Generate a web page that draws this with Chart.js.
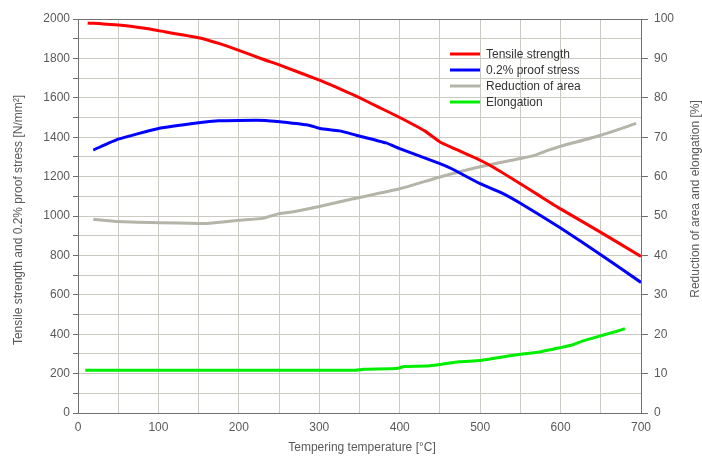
<!DOCTYPE html>
<html>
<head>
<meta charset="utf-8">
<script src="https://cdn.jsdelivr.net/npm/chart.js@4"></script>
<style>
html,body{margin:0;padding:0;background:#fff;}
#wrap{width:702px;height:457px;position:relative;}
</style>
</head>
<body>
<div id="wrap"><canvas id="c" width="702" height="457"></canvas></div>
<script>
// ---- data ----
const tensileT   = [12, 50, 83, 100, 150, 175, 200, 229, 251, 301, 329, 346, 373, 400, 431, 450, 468, 500, 518, 550, 576, 600, 650, 700];
const tensileVal = [1980, 1969, 1953, 1941, 1905, 1876, 1841, 1797, 1766, 1688, 1639, 1608, 1554, 1500, 1432, 1376, 1342, 1283, 1244, 1164, 1097, 1036, 917, 795];

const proofT   = [19, 50, 100, 150, 175, 200, 233, 251, 287, 301, 325, 346, 383, 400, 450, 464, 500, 526, 550, 600, 650, 700];
const proofVal = [1335, 1390, 1444, 1473, 1483, 1485, 1485, 1478, 1461, 1444, 1432, 1410, 1371, 1342, 1266, 1241, 1164, 1119, 1065, 939, 803, 663];

const reductionT   = [19, 50, 100, 150, 160, 200, 230, 250, 268, 300, 338, 400, 450, 500, 550, 568, 585, 600, 650, 694];
const reductionVal = [49.2, 48.6, 48.3, 48.1, 48.1, 48.9, 49.4, 50.6, 51.1, 52.4, 54.2, 56.9, 59.9, 62.5, 64.6, 65.4, 66.7, 67.7, 70.5, 73.5];

const elongT   = [9, 100, 200, 300, 345, 355, 396, 406, 433, 450, 474, 500, 524, 550, 574, 600, 613, 628, 650, 669, 680];
const elongVal = [10.85, 10.85, 10.85, 10.85, 10.85, 11.1, 11.3, 11.8, 11.9, 12.3, 13.0, 13.3, 14.1, 14.9, 15.5, 16.6, 17.2, 18.3, 19.6, 20.7, 21.4];

const seriesNames = ['Tensile strength', '0.2% proof stress', 'Reduction of area', 'Elongation'];
const xTitle = 'Tempering temperature [°C]';
const yLeftTitle = 'Tensile strength and 0.2% proof stress [N/mm²]';
const yRightTitle = 'Reduction of area and elongation [%]';

// ---- build ----
const pts = (xs, ys) => xs.map((x, i) => ({x: x, y: ys[i]}));
const FONT = '"Liberation Sans", Arial, sans-serif';
const AXIS = '#707070';
const GRID = '#cacac2';
const TXT = '#5a5a5a';

const colors = ['#ff0000', '#0000ff', '#b4b4a8', '#00ee00'];

const legendTitles = {
  id: 'customText',
  afterDatasetsDraw(chart) {
    const ctx = chart.ctx;
    ctx.save();
    // legend inside plot
    ctx.font = '12px ' + FONT;
    ctx.textBaseline = 'middle';
    ctx.textAlign = 'left';
    const rows = [54, 70, 86, 102];
    chart.data.datasets.forEach((ds, i) => {
      ctx.strokeStyle = ds.borderColor;
      ctx.lineWidth = 3;
      ctx.beginPath();
      ctx.moveTo(450, rows[i]);
      ctx.lineTo(480, rows[i]);
      ctx.stroke();
      ctx.fillStyle = '#333333';
      ctx.fillText(ds.label, 486, rows[i] + 0.5);
    });
    // axis titles
    ctx.fillStyle = TXT;
    ctx.textAlign = 'center';
    ctx.fillText(xTitle, 362, 448);
    ctx.save();
    ctx.translate(18.5, 220);
    ctx.rotate(-Math.PI / 2);
    ctx.fillText(yLeftTitle, 0, 0);
    ctx.restore();
    ctx.save();
    ctx.translate(696, 199);
    ctx.rotate(-Math.PI / 2);
    ctx.fillText(yRightTitle, 0, 0);
    ctx.restore();
    ctx.restore();
  }
};

new Chart(document.getElementById('c'), {
  type: 'line',
  data: {
    datasets: [
      {label: seriesNames[0], data: pts(tensileT, tensileVal), borderColor: colors[0], yAxisID: 'y'},
      {label: seriesNames[1], data: pts(proofT, proofVal), borderColor: colors[1], yAxisID: 'y'},
      {label: seriesNames[2], data: pts(reductionT, reductionVal), borderColor: colors[2], yAxisID: 'y2'},
      {label: seriesNames[3], data: pts(elongT, elongVal), borderColor: colors[3], yAxisID: 'y2'}
    ]
  },
  options: {
    responsive: false,
    animation: false,
    devicePixelRatio: 1,
    layout: {padding: {top: 19, left: 0, right: 0, bottom: 0}},
    elements: {
      line: {borderWidth: 3, tension: 0.15, fill: false, borderCapStyle: 'butt'},
      point: {radius: 0, hoverRadius: 0}
    },
    plugins: {legend: {display: false}, tooltip: {enabled: false}},
    scales: {
      x: {
        type: 'linear', min: 0, max: 700,
        afterFit(s) { s.height = 44; },
        ticks: {
          stepSize: 50, padding: 7, color: TXT, font: {family: FONT, size: 12},
          maxRotation: 0, autoSkip: false,
          callback: v => (v % 100 === 0 ? String(v) : '')
        },
        grid: {color: GRID, drawTicks: false, lineWidth: 1},
        border: {color: AXIS, width: 1}
      },
      y: {
        position: 'left', min: 0, max: 2000,
        afterFit(s) { s.width = 78; },
        ticks: {
          stepSize: 100, padding: 3, color: TXT, font: {family: FONT, size: 12},
          autoSkip: false,
          callback: v => (v % 200 === 0 ? String(v) : '')
        },
        grid: {
          color: c => (c.tick && c.tick.value === 2000 ? AXIS : GRID),
          tickColor: AXIS, tickLength: 5, lineWidth: 1
        },
        border: {color: AXIS, width: 1}
      },
      y2: {
        position: 'right', min: 0, max: 100,
        afterFit(s) { s.width = 61; },
        ticks: {stepSize: 10, padding: 6, color: TXT, font: {family: FONT, size: 12}, autoSkip: false},
        grid: {drawOnChartArea: false, tickColor: AXIS, tickLength: 7},
        border: {color: AXIS, width: 1}
      }
    }
  },
  plugins: [legendTitles]
});
</script>
</body>
</html>
